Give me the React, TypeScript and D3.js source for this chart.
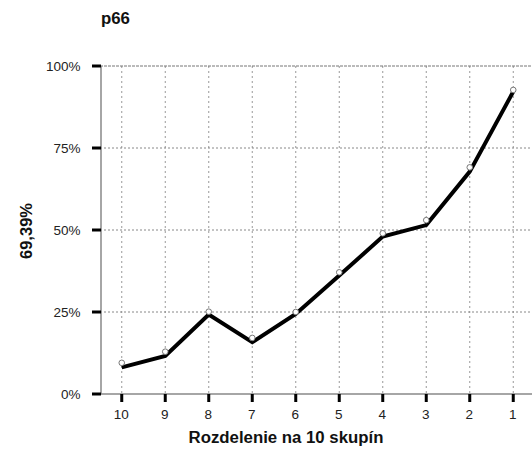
import React from "react";
import * as d3 from "d3";

const categories = ["10", "9", "8", "7", "6", "5", "4", "3", "2", "1"];
const lineValues = [8.1, 11.6, 24.2, 15.8, 24.4, 36.1, 48.0, 51.5, 67.8, 92.2];
const markerValues = [9.5, 12.9, 25.1, 17.1, 25.0, 37.1, 49.0, 53.0, 69.1, 92.7];
const yTicks = [0, 25, 50, 75, 100];
const title = "p66";
const yTitle = "69,39%";
const xTitle = "Rozdelenie na 10 skupín";

export default function App() {
  const W = 532, H = 452;
  const left = 100, right = 535, top = 66, bottom = 394;
  const x = d3.scaleBand<string>().domain(categories).range([left, right]);
  const y = d3.scaleLinear().domain([0, 100]).range([bottom, top]);
  const cx = (c: string) => (x(c) as number) + x.bandwidth() / 2;
  const line = d3
    .line<number>()
    .x((_, i) => cx(categories[i]))
    .y((d) => y(d));
  const font = "Arial, 'Liberation Sans', sans-serif";
  return (
    <svg width={W} height={H} style={{ position: "absolute", left: 0, top: 0 }} fontFamily={font}>
      <rect width={W} height={H} fill="#fff" />
      {/* vertical grid */}
      {categories.map((c) => (
        <line key={"vg" + c} x1={cx(c)} x2={cx(c)} y1={top} y2={bottom} stroke="#999" strokeWidth={1} strokeDasharray="2,3" />
      ))}
      {/* horizontal grid */}
      {yTicks.filter((t) => t > 0).map((t) => (
        <line key={"hg" + t} x1={left} x2={W} y1={y(t)} y2={y(t)} stroke={t === 100 ? "#777" : "#888"} strokeWidth={1} strokeDasharray={t === 100 ? "3,1" : "2,2"} />
      ))}
      {/* axes */}
      <line x1={left + 1} x2={left + 1} y1={top} y2={bottom} stroke="#888" strokeWidth={1.5} />
      <line x1={left} x2={W} y1={bottom} y2={bottom} stroke="#888" strokeWidth={1.5} />
      {/* y ticks */}
      {yTicks.map((t) => (
        <g key={"yt" + t}>
          <line x1={92} x2={101} y1={y(t)} y2={y(t)} stroke="#000" strokeWidth={3} />
          <text x={80.5} y={y(t) + 5} textAnchor="end" fontSize={13.5} fill="#222">{t + "%"}</text>
        </g>
      ))}
      {/* x ticks */}
      {categories.map((c) => (
        <g key={"xt" + c}>
          <line x1={cx(c)} x2={cx(c)} y1={bottom} y2={402} stroke="#000" strokeWidth={3} />
          <text x={cx(c) - 0.5} y={419} textAnchor="middle" fontSize={13.5} fill="#222">{c}</text>
        </g>
      ))}
      {/* line */}
      <path d={line(lineValues) || ""} fill="none" stroke="#000" strokeWidth={4} strokeLinejoin="miter" />
      {/* markers */}
      {markerValues.map((v, i) => (
        <circle key={"m" + i} cx={cx(categories[i])} cy={y(v)} r={2.8} fill="#fff" stroke="#777" strokeWidth={1} />
      ))}
      <text x={101} y={24} fontSize={16.8} fontWeight="bold" fill="#111">{title}</text>
      <text transform={`translate(31.5,231) rotate(-90)`} textAnchor="middle" fontSize={16.5} fontWeight="bold" fill="#111">{yTitle}</text>
      <text x={286} y={443} textAnchor="middle" fontSize={16.8} fontWeight="bold" fill="#111">{xTitle}</text>
    </svg>
  );
}
